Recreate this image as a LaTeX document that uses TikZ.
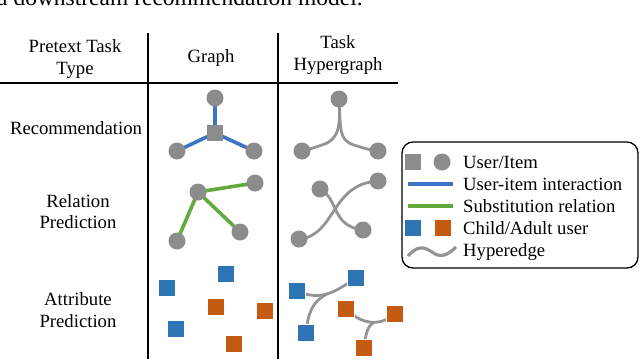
\documentclass[tikz,border=0pt]{standalone}
\usepackage{fontspec}
\setmainfont{Liberation Serif}
\usetikzlibrary{backgrounds}
\definecolor{nodegray}{HTML}{8C8C8C}
\definecolor{edgegray}{HTML}{949494}
\definecolor{ublue}{HTML}{3D72C4}
\definecolor{sqblue}{HTML}{2E75B6}
\definecolor{sqorange}{HTML}{C55A11}
\definecolor{sgreen}{HTML}{62AA3C}
\tikzset{
  rule/.style={line width=2.4pt, black},
  circ/.style={circle, fill=nodegray, minimum size=17pt, inner sep=0pt},
  gsq/.style={rectangle, fill=nodegray, minimum size=16pt, inner sep=0pt},
  bsq/.style={rectangle, fill=sqblue, draw=white, line width=0.4pt, minimum size=17pt, inner sep=0pt},
  osq/.style={rectangle, fill=sqorange, draw=white, line width=0.4pt, minimum size=17pt, inner sep=0pt},
  bedge/.style={ublue, line width=3.6pt},
  gedge/.style={sgreen, line width=3.6pt},
  hedge/.style={edgegray, line width=2.8pt},
  txt/.style={font=\fontsize{18.7}{21.5}\selectfont, inner sep=0pt, align=center},
  ltxt/.style={font=\fontsize{18.7}{21.5}\selectfont, inner sep=0pt, anchor=base west},
  legendbox/.style={draw=black, line width=1.3pt, rounded corners=11pt, minimum width=236pt, minimum height=126pt, inner sep=0pt}
}
\begin{document}
\begin{tikzpicture}[x=1pt,y=-1pt]
\useasboundingbox (0,0) rectangle (640,359);
% clipped caption line at top
\begin{scope}
\clip (0,0) rectangle (640,359);
\node[font=\fontsize{23.5}{26}\selectfont, inner sep=0pt, anchor=base west] (cap) at (-3,5.5) {a downstream recommendation model.};
\end{scope}
% table rules
\coordinate (hl) at (0,83);
\coordinate (hr) at (398,83);
\coordinate (v1t) at (148,33);
\coordinate (v1b) at (148,359);
\coordinate (v2t) at (278,33);
\coordinate (v2b) at (278,359);
\draw[rule] (hl) -- (hr);
\draw[rule] (v1t) -- (v1b);
\draw[rule] (v2t) -- (v2b);
% headers
\node[txt] (h1) at (75,59) {Pretext Task\\Type};
\node[txt] (h2) at (211,58) {Graph};
\node[txt] (h3) at (338,55) {Task\\Hypergraph};
% row labels
\node[txt] (l1) at (76,128) {Recommendation};
\node[txt] (l2) at (78,211.5) {Relation\\Prediction};
\node[txt] (l3) at (78,310) {Attribute\\Prediction};

% ---- Recommendation / Graph
\node[circ] (ra) at (215,98) {};
\node[gsq] (rs) at (215,133) {};
\node[circ] (rb) at (177,151) {};
\node[circ] (rc) at (254,151) {};
\begin{pgfonlayer}{background}
\draw[bedge] (rs.center) -- (ra.center);
\draw[bedge] (rs.center) -- (rb.center);
\draw[bedge] (rs.center) -- (rc.center);
\end{pgfonlayer}
% ---- Recommendation / Hypergraph
\node[circ] (ha) at (339,99) {};
\node[circ] (hb) at (302,151) {};
\node[circ] (hc) at (378,151) {};
\begin{pgfonlayer}{background}
\draw[hedge] (ha.center) .. controls (341,128) and (338,140) .. (322,145) .. controls (313,148) and (307,150) .. (hb.center);
\draw[hedge] (ha.center) .. controls (341,128) and (338,140) .. (354,145) .. controls (363,148) and (370,150) .. (hc.center);
\end{pgfonlayer}

% ---- Relation / Graph
\node[circ] (ga) at (198,192) {};
\node[circ] (gb) at (255,183) {};
\node[circ] (gc) at (240,232) {};
\node[circ] (gd) at (177,241) {};
\begin{pgfonlayer}{background}
\draw[gedge] (ga.center) -- (gb.center);
\draw[gedge] (ga.center) -- (gc.center);
\draw[gedge] (ga.center) -- (gd.center);
\end{pgfonlayer}
% ---- Relation / Hypergraph
\node[circ] (qa) at (320,189) {};
\node[circ] (qb) at (378,181) {};
\node[circ] (qc) at (363,230) {};
\node[circ] (qd) at (299,239) {};
\begin{pgfonlayer}{background}
\draw[hedge] (qa.center) .. controls (339,199) and (331,226) .. (qc.center);
\draw[hedge] (qd.center) .. controls (336,236) and (330,184) .. (qb.center);
\end{pgfonlayer}

% ---- Attribute / Graph
\node[bsq] (a1) at (167,288) {};
\node[bsq] (a2) at (226,274) {};
\node[osq] (a3) at (216,307) {};
\node[osq] (a4) at (265,311) {};
\node[bsq] (a5) at (176,329) {};
\node[osq] (a6) at (234,344) {};
% ---- Attribute / Hypergraph
\node[bsq] (b1) at (297,291) {};
\node[bsq] (b2) at (356,278) {};
\node[bsq] (b3) at (306,333) {};
\node[osq] (b4) at (346,309) {};
\node[osq] (b5) at (395,314) {};
\node[osq] (b6) at (364,348) {};
\coordinate (jb) at (327,294);
\coordinate (jo) at (374,322);
\begin{pgfonlayer}{background}
\draw[hedge] (b1.center) .. controls (322,302) and (336,291) .. (b2.center);
\draw[hedge] (jb) .. controls (313,301) and (308,312) .. (b3.center);
\draw[hedge] (b4.center) .. controls (360,323) and (378,328) .. (b5.center);
\draw[hedge] (jo) .. controls (367,327) and (366,333) .. (b6.center);
\end{pgfonlayer}

% ---- Legend
\node[legendbox] (legend) at (520,205) {};
\node[gsq] (lg1) at (413,162) {};
\node[circ] (lg2) at (442,162) {};
\node[ltxt] (lt1) at (463,168) {User/Item};
\coordinate (lb1) at (408,184);
\coordinate (lb2) at (453,184);
\draw[ublue, line width=3.2pt] (lb1) -- (lb2);
\node[ltxt] (lt2) at (463,190) {User-item interaction};
\coordinate (lgr1) at (408,206);
\coordinate (lgr2) at (453,206);
\draw[sgreen, line width=3.2pt] (lgr1) -- (lgr2);
\node[ltxt] (lt3) at (463,212) {Substitution relation};
\node[bsq] (lg3) at (413,228) {};
\node[osq] (lg4) at (443,228) {};
\node[ltxt] (lt4) at (463,234) {Child/Adult user};
\coordinate (lw1) at (408,256);
\coordinate (lw2) at (456,247);
\draw[hedge, line width=3.2pt] (lw1) .. controls (417,246) and (423,246) .. (432,252) .. controls (440,258) and (447,256) .. (lw2);
\node[ltxt] (lt5) at (463,256) {Hyperedge};
\end{tikzpicture}
\end{document}
